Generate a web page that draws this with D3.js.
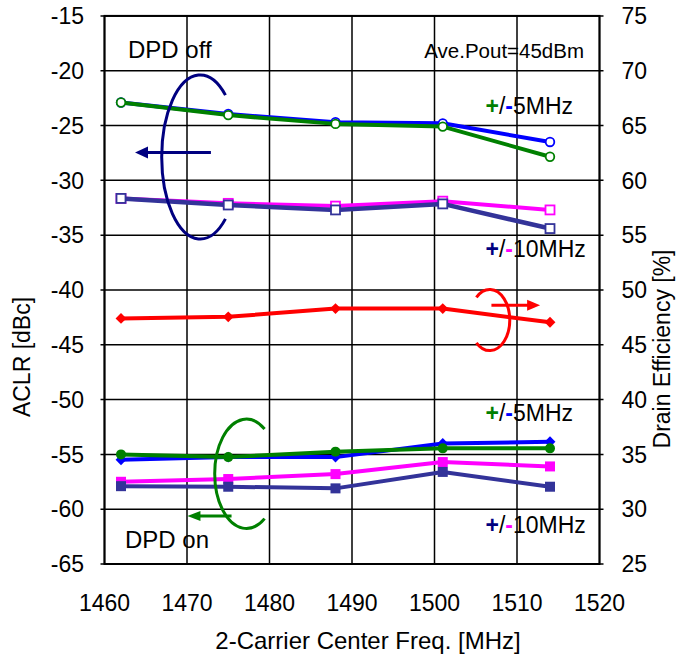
<!DOCTYPE html>
<html><head><meta charset="utf-8">
<script src="https://cdn.jsdelivr.net/npm/d3@7"></script>
<style>
body{margin:0;background:#fff}
text{font-family:"Liberation Sans",Arial,Helvetica,sans-serif;fill:#000}
</style>
</head><body>
<svg id="chart" width="683" height="656"></svg>
<script>
// ---- data ----
const freqs = [1462, 1475, 1488, 1501, 1514];
const xTicks = [1460, 1470, 1480, 1490, 1500, 1510, 1520];
const aclrTicks = [-15, -20, -25, -30, -35, -40, -45, -50, -55, -60, -65];
const effTicks = [75, 70, 65, 60, 55, 50, 45, 40, 35, 30, 25];
// DPD off
const offMinus5  = [-22.9, -23.95, -24.7, -24.8, -26.5];
const offPlus5   = [-22.9, -24.05, -24.85, -25.1, -27.85];
const offMinus10 = [-31.65, -32.1, -32.35, -31.9, -32.7];
const offPlus10  = [-31.65, -32.25, -32.7, -32.15, -34.4];
// Drain efficiency [%]
const efficiency = [47.4, 47.55, 48.3, 48.3, 47.05];
// DPD on
const onMinus5  = [-55.5, -55.25, -55.25, -54.0, -53.85];
const onPlus5   = [-55.0, -55.25, -54.75, -54.45, -54.45];
const onMinus10 = [-57.5, -57.25, -56.8, -55.7, -56.1];
const onPlus10  = [-57.9, -57.95, -58.1, -56.6, -57.95];

// ---- layout ----
const L = 104.5, R = 599.5, T = 15.9, B = 564;
const svg = d3.select("#chart");
const x = d3.scaleLinear().domain([1460, 1520]).range([L, R]);
const yL = d3.scaleLinear().domain([-65, -15]).range([B, T]);
const yR = d3.scaleLinear().domain([25, 75]).range([B, T]);

const FONT = 23;

// grid
const g = svg.append("g");
g.selectAll(".hg").data(aclrTicks).join("line")
  .attr("x1", L - 4).attr("x2", R + 4)
  .attr("y1", d => yL(d)).attr("y2", d => yL(d))
  .attr("stroke", "#000").attr("stroke-width", 1.5);
g.selectAll(".vg").data(xTicks).join("line")
  .attr("x1", d => x(d)).attr("x2", d => x(d))
  .attr("y1", T).attr("y2", B)
  .attr("stroke", "#000").attr("stroke-width", 1.5);
g.append("rect").attr("x", L).attr("y", T).attr("width", R - L).attr("height", B - T)
  .attr("fill", "none").attr("stroke", "#000").attr("stroke-width", 2);

// axes labels
svg.append("g").selectAll("text").data(aclrTicks).join("text")
  .attr("x", 84).attr("y", d => yL(d)).attr("dy", "0.36em")
  .attr("text-anchor", "end").attr("font-size", FONT).text(d => d);
svg.append("g").selectAll("text").data(effTicks).join("text")
  .attr("x", 621.5).attr("y", d => yR(d)).attr("dy", "0.36em")
  .attr("text-anchor", "start").attr("font-size", FONT).text(d => d);
svg.append("g").selectAll("text").data(xTicks).join("text")
  .attr("x", d => x(d)).attr("y", 611)
  .attr("text-anchor", "middle").attr("font-size", FONT).text(d => d);

svg.append("text").attr("x", 368).attr("y", 649).attr("text-anchor", "middle")
  .attr("font-size", 24).text("2-Carrier Center Freq. [MHz]");
svg.append("text").attr("transform", "translate(30,357) rotate(-90)")
  .attr("text-anchor", "middle").attr("font-size", FONT).text("ACLR [dBc]");
svg.append("text").attr("transform", "translate(670,349) rotate(-90)")
  .attr("text-anchor", "middle").attr("font-size", FONT).text("Drain Efficiency [%]");

// ---- series ----
const series = [
  {vals: offMinus5,  color: "#0000ff", w: 4, marker: "circleOpen", scale: yL},
  {vals: offPlus5,   color: "#008000", w: 4, marker: "circleOpen", scale: yL},
  {vals: offMinus10, color: "#ff00ff", w: 4, marker: "squareOpen", scale: yL},
  {vals: offPlus10,  color: "#333399", w: 4.5, marker: "squareOpen", scale: yL},
  {vals: efficiency, color: "#ff0000", w: 4, marker: "diamond", scale: yR},
  {vals: onMinus5,   color: "#0000ff", w: 4, marker: "diamond", scale: yL},
  {vals: onPlus5,    color: "#008000", w: 4, marker: "circle", scale: yL},
  {vals: onMinus10,  color: "#ff00ff", w: 4, marker: "square", scale: yL},
  {vals: onPlus10,   color: "#333399", w: 4, marker: "square", scale: yL}
];

const sg = svg.append("g");
series.forEach(s => {
  const pts = freqs.map((f, i) => [x(f), s.scale(s.vals[i])]);
  sg.append("path").attr("d", d3.line()(pts))
    .attr("fill", "none").attr("stroke", s.color).attr("stroke-width", s.w)
    .attr("stroke-linejoin", "round");
  const mg = sg.append("g");
  pts.forEach(p => {
    if (s.marker === "circleOpen") {
      mg.append("circle").attr("cx", p[0]).attr("cy", p[1]).attr("r", 4.3)
        .attr("fill", "#fff").attr("stroke", s.color).attr("stroke-width", 1.8);
    } else if (s.marker === "squareOpen") {
      mg.append("rect").attr("x", p[0] - 4.5).attr("y", p[1] - 4.5).attr("width", 9).attr("height", 9)
        .attr("fill", "#fff").attr("stroke", s.color).attr("stroke-width", 1.8);
    } else if (s.marker === "circle") {
      mg.append("circle").attr("cx", p[0]).attr("cy", p[1]).attr("r", 5).attr("fill", s.color);
    } else if (s.marker === "square") {
      mg.append("rect").attr("x", p[0] - 5).attr("y", p[1] - 5).attr("width", 10).attr("height", 10)
        .attr("fill", s.color);
    } else if (s.marker === "diamond") {
      mg.append("path").attr("d", d3.symbol(d3.symbolDiamond2, 75)())
        .attr("transform", `translate(${p[0]},${p[1]})`).attr("fill", s.color);
    }
  });
});

// ---- annotations ----
function ellArc(cx, cy, rx, ry, a0, a1, sweep, color, w) {
  const p0 = [cx + rx * Math.cos(a0 * Math.PI / 180), cy + ry * Math.sin(a0 * Math.PI / 180)];
  const p1 = [cx + rx * Math.cos(a1 * Math.PI / 180), cy + ry * Math.sin(a1 * Math.PI / 180)];
  svg.append("path")
    .attr("d", `M${p0[0]},${p0[1]} A${rx},${ry} 0 1 ${sweep} ${p1[0]},${p1[1]}`)
    .attr("fill", "none").attr("stroke", color).attr("stroke-width", w).attr("stroke-linecap", "butt");
}
function arrow(x0, x1, yy, color, w, hl, hh) {
  const dir = Math.sign(x1 - x0);
  svg.append("line").attr("x1", x0).attr("x2", x1 - dir * hl * 0.8).attr("y1", yy).attr("y2", yy)
    .attr("stroke", color).attr("stroke-width", w);
  svg.append("path")
    .attr("d", `M${x1},${yy} L${x1 - dir * hl},${yy - hh} L${x1 - dir * hl},${yy + hh} Z`)
    .attr("fill", color);
}
// DPD off (navy, pointing to left axis)
ellArc(x(1471.6), yL(-27.87), 38.5, 82, -49, 49, 0, "#000080", 3);
arrow(x(1472.9), x(1463.7), yL(-27.45), "#000080", 3, 13, 6);
// DPD on (green)
ellArc(x(1477.2), yL(-56.77), 31.7, 54.7, -55, 55, 0, "#008000", 3);
arrow(x(1475.4), x(1470.05), yL(-60.62), "#008000", 3, 13, 5);
// Efficiency (red, pointing to right axis)
ellArc(x(1506.7), yR(47.25), 20, 30.5, -132, 132, 1, "#ff0000", 3);
arrow(x(1506.9), x(1512.8), yR(48.6), "#ff0000", 3, 13, 5.5);

// ---- text annotations ----
svg.append("text").attr("x", 128).attr("y", 58).attr("font-size", 24).text("DPD off");
svg.append("text").attr("x", 125).attr("y", 548).attr("font-size", 24).text("DPD on");
svg.append("text").attr("x", 584).attr("y", 58).attr("text-anchor", "end").attr("font-size", 20.5).text("Ave.Pout=45dBm");

function pmLabel(x0, yb, plusColor, minusColor, rest) {
  const t = svg.append("text").attr("x", x0).attr("y", yb).attr("font-size", FONT);
  t.append("tspan").style("fill", plusColor).attr("font-weight", "bold").text("+");
  t.append("tspan").text("/");
  t.append("tspan").style("fill", minusColor).attr("font-weight", "bold").text("-");
  t.append("tspan").text(rest);
}
pmLabel(485.5, 114, "#008000", "#0000ff", "5MHz");
pmLabel(485.5, 257, "#000080", "#ff00ff", "10MHz");
pmLabel(485.5, 420.5, "#008000", "#0000ff", "5MHz");
pmLabel(485.5, 533, "#000080", "#ff00ff", "10MHz");
</script>
</body></html>
